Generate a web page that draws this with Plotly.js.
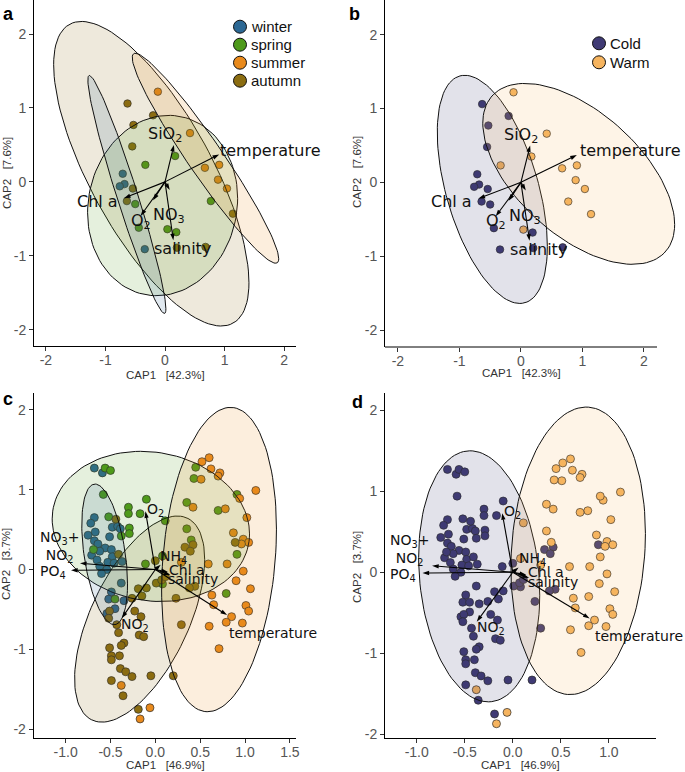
<!DOCTYPE html>
<html><head><meta charset="utf-8">
<script src="https://cdn.plot.ly/plotly-3.0.1.min.js"></script>
<style>html,body{margin:0;padding:0;background:#fff;}#chart{width:685px;height:772px;}</style>
</head><body><div id="chart"></div>
<script>
// ---------- categories & colours ----------
const seasons = ['winter','spring','summer','autumn'];
const seasonColors = ['#2c6894','#4e9a1b','#e98a1c','#8b6d11'];
const thermals = ['Cold','Warm'];
const thermalColors = ['#3f3a74','#f6b45f'];

// ---------- panels a / b : samples ----------
const abX = [-0.12,-0.63,-0.20,-0.53,0.42,-0.55,0.17,-0.33,0.67,0.91,-0.71,-0.68,-0.76,-0.54,0.89,1.04,-0.64,-0.50,0.77,1.14,-0.44,0.04,0.19,-0.34,0.20,0.68];
const abY = [1.22,1.06,0.90,0.77,0.66,0.48,0.35,0.23,0.19,0.23,0.11,-0.03,-0.06,-0.09,0.03,-0.09,-0.26,-0.30,-0.26,-0.43,-0.62,-0.64,-0.68,-0.91,-0.89,-0.88];
const abSeason = ['summer','autumn','autumn','autumn','summer','autumn','spring','spring','summer','summer','winter','winter','winter','autumn','summer','summer','autumn','spring','spring','autumn','spring','spring','spring','winter','autumn','autumn'];
const abThermal = ['Warm','Cold','Cold','Cold','Warm','Cold','Warm','Warm','Warm','Warm','Cold','Cold','Cold','Cold','Warm','Warm','Cold','Cold','Warm','Warm','Cold','Warm','Cold','Cold','Cold','Cold'];

// ---------- panels c / d : samples ----------
const cWinterX = [-0.68,-0.59,-0.68,-0.72,-0.48,-0.42,-0.39,-0.67,-0.75,-0.51,-0.68,-0.64,-0.56,-0.62,-0.49,-0.48,-0.71,-0.65,-0.53,-0.46,-0.37,-0.62,-0.54,-0.60,-0.38,-0.52,-0.35,-0.45,-0.54,-0.49];
const cWinterY = [1.27,1.21,0.65,0.58,0.53,0.54,0.51,0.47,0.43,0.41,0.36,0.32,0.27,0.23,0.25,0.16,0.18,0.12,0.09,0.08,0.10,0.04,0.00,-0.05,-0.17,-0.37,-0.39,-0.49,-0.55,-0.28];
const cSpringX = [-0.56,-0.50,-0.58,-0.10,-0.30,-0.30,-0.17,-0.52,-0.29,-0.38,-0.29,0.11,-0.69,-0.11,0.08,0.08,0.45,0.43,0.91,0.35,0.70,0.35,0.40,0.91,0.79,-0.45];
const cSpringY = [1.27,1.24,0.94,0.88,0.78,0.70,0.70,0.66,0.52,0.42,0.45,0.61,0.25,0.07,0.17,-0.18,1.28,1.14,0.94,0.84,0.74,0.51,0.37,0.19,-0.30,-0.37];
const cSpringThermal = ['Cold','Cold','Cold','Cold','Cold','Cold','Cold','Cold','Cold','Cold','Cold','Warm','Cold','Cold','Warm','Cold','Warm','Warm','Warm','Warm','Warm','Warm','Warm','Warm','Warm','Cold'];
const cSummerX = [0.52,0.60,0.62,0.72,0.70,0.51,1.12,0.94,0.42,0.78,1.02,0.87,0.98,1.04,0.96,0.59,0.80,0.98,0.90,1.06,0.63,0.65,1.01,1.04,0.85,0.79,0.97,0.60,0.71,-0.38,-0.06,-0.17,0.29];
const cSummerY = [1.35,1.40,1.26,1.21,1.17,1.13,0.99,0.89,0.78,0.76,0.65,0.46,0.38,0.34,0.32,0.07,0.07,-0.02,-0.14,-0.24,-0.32,-0.44,-0.45,-0.52,-0.59,-0.66,-0.67,-0.71,-0.99,-1.45,-1.73,-1.87,0.09];
const cAutumnX = [-0.44,-0.41,0.00,0.01,0.07,-0.10,0.89,0.33,0.42,0.39,0.44,0.38,0.23,0.29,0.20,-0.19,-0.15,-0.26,-0.51,-0.23,-0.16,-0.43,-0.41,-0.18,-0.13,-0.35,-0.38,-0.51,-0.49,-0.40,-0.49,-0.39,-0.33,-0.26,-0.05,-0.49,-0.36,-0.19,0.11,-0.52];
const cAutumnY = [0.63,0.19,0.11,-0.17,-0.13,-0.23,0.34,0.28,0.31,0.23,-0.21,-0.23,-0.36,-0.69,-1.33,-0.24,-0.33,-0.36,-0.52,-0.52,-0.59,-0.69,-0.79,-0.82,-0.84,-0.92,-0.95,-0.98,-1.08,-1.08,-1.13,-1.24,-1.28,-1.34,-1.33,-1.39,-1.58,-1.75,-0.09,-0.61];

// ---------- 95% ellipses: centre, sd x, sd y, correlation ----------
// order follows seasons[] / thermals[]
const aEllCx = [-0.64,-0.04,0.68,-0.23], aEllCy = [-0.17,-0.32,0.32,0.11], aEllSx = [0.655,1.26,1.23,1.64], aEllSy = [1.61,1.22,1.42,2.06], aEllR = [-0.96,0.08,-0.958,-0.716];
const bEllCx = [-0.465,0.94], bEllCy = [-0.095,0.115], bEllSx = [0.895,1.56], bEllSy = [1.545,1.225], bEllR = [-0.5,-0.56];
const cEllCx = [-0.565,-0.05,0.71,-0.175], cEllCy = [0.19,0.54,0.125,-0.62], cEllSx = [0.255,1.10,0.64,0.725], cEllSy = [0.88,0.94,1.905,1.29], cEllR = [-0.42,-0.1,0.2,0.58];
const dEllCx = [-0.35,0.68], dEllCy = [-0.05,0.265], dEllSx = [0.63,0.70], dEllSy = [1.55,1.775], dEllR = [-0.15,0.12];

// ---------- environmental vectors ----------
const abVecName = ['SiO<sub>2</sub>','temperature','Chl a','O<sub>2</sub>','NO<sub>3</sub>','salinity',''];
const abVecX = [0.15,0.91,-0.69,-0.41,-0.20,0.14,0.08];
const abVecY = [0.50,0.37,-0.22,-0.46,-0.25,-0.79,-0.11];
const abLabX = [0.0,1.78,-1.13,-0.40,0.06,0.29,0];
const abLabY = [0.64,0.43,-0.26,-0.53,-0.46,-0.905,0];
const cdVecName = ['O<sub>2</sub>','NO<sub>3</sub>+<br>NO<sub>2</sub>','PO<sub>4</sub>','NH<sub>4</sub>','Chl a','salinity','NO<sub>2</sub>','temperature'];
const cdVecX = [-0.11,-0.84,-0.94,0.06,0.14,0.17,-0.375,0.80];
const cdVecY = [0.73,0.08,-0.01,0.06,-0.03,-0.07,-0.61,-0.57];
const cdLabX = [0.0,-1.07,-1.14,0.20,0.35,0.42,-0.23,1.31];
const cdLabY = [0.74,0.28,-0.03,0.16,0.0,-0.12,-0.69,-0.79];

// ---------- axis ticks & titles ----------
const abTicks = [-2,-1,0,1,2], abTickText = ['-2','-1','0','1','2'];
const cdXTicks = [-1,-0.5,0,0.5,1,1.5], cdXTickText = ['-1.0','-0.5','0.0','0.5','1.0','1.5'];
const cdYTicks = [-2,-1,0,1,2], cdYTickText = ['-2','-1','0','1','2'];
const xTitles = ['CAP1\u00a0\u00a0 [42.3%]','CAP1\u00a0\u00a0 [42.3%]','CAP1\u00a0\u00a0 [46.9%]','CAP1\u00a0\u00a0 [46.9%]'];
const yTitles = ['CAP2\u00a0\u00a0 [7.6%]','CAP2\u00a0\u00a0 [7.6%]','CAP2\u00a0\u00a0 [3.7%]','CAP2\u00a0\u00a0 [3.7%]'];
const panelLetters = ['a','b','c','d'];

// ================= build =================
const W = 685, H = 772;
function px(x){return x/W;}
function py(y){return 1-y/H;}
function rgba(hex,a){const n=parseInt(hex.slice(1),16);return `rgba(${n>>16},${(n>>8)&255},${n&255},${a})`;}
function ellipse(cx,cy,sx,sy,r){const xs=[],ys=[],q=Math.sqrt(1-r*r);for(let i=0;i<=120;i++){const t=2*Math.PI*i/120;xs.push(cx+sx*Math.cos(t));ys.push(cy+sy*(r*Math.cos(t)+q*Math.sin(t)));}return {xs,ys};}
function pick(arr,keys,k){return arr.filter((_,i)=>keys[i]===k);}

const traces = [];
function pts(x,y,color,xa,ya,size){traces.push({type:'scatter',mode:'markers',x:x,y:y,xaxis:xa,yaxis:ya,showlegend:false,hoverinfo:'skip',
  marker:{size:size,color:color,line:{color:'#2a2a2a',width:0.7}}});}
function ell(cx,cy,sx,sy,r,color,xa,ya){const e=ellipse(cx,cy,sx,sy,r);traces.push({type:'scatter',mode:'lines',x:e.xs,y:e.ys,xaxis:xa,yaxis:ya,fill:'toself',
  fillcolor:rgba(color,0.15),line:{color:'#111',width:1},showlegend:false,hoverinfo:'skip'});}

// panel a
seasons.forEach((s,i)=>pts(pick(abX,abSeason,s),pick(abY,abSeason,s),seasonColors[i],'x','y',7.5));
[3,1,2,0].forEach(i=>ell(aEllCx[i],aEllCy[i],aEllSx[i],aEllSy[i],aEllR[i],seasonColors[i],'x','y'));
// panel b
thermals.forEach((s,i)=>pts(pick(abX,abThermal,s),pick(abY,abThermal,s),thermalColors[i],'x2','y2',7.5));
thermals.forEach((s,i)=>ell(bEllCx[i],bEllCy[i],bEllSx[i],bEllSy[i],bEllR[i],thermalColors[i],'x2','y2'));
// panel c
const cX = {winter:cWinterX,spring:cSpringX,summer:cSummerX,autumn:cAutumnX};
const cY = {winter:cWinterY,spring:cSpringY,summer:cSummerY,autumn:cAutumnY};
seasons.forEach((s,i)=>pts(cX[s],cY[s],seasonColors[i],'x3','y3',8));
[3,1,0,2].forEach(i=>ell(cEllCx[i],cEllCy[i],cEllSx[i],cEllSy[i],cEllR[i],seasonColors[i],'x3','y3'));
// panel d
const coldX = cWinterX.concat(pick(cSpringX,cSpringThermal,'Cold'),cAutumnX);
const coldY = cWinterY.concat(pick(cSpringY,cSpringThermal,'Cold'),cAutumnY);
const warmX = cSummerX.concat(pick(cSpringX,cSpringThermal,'Warm'));
const warmY = cSummerY.concat(pick(cSpringY,cSpringThermal,'Warm'));
pts(coldX,coldY,thermalColors[0],'x4','y4',8);
pts(warmX,warmY,thermalColors[1],'x4','y4',8);
thermals.forEach((s,i)=>ell(dEllCx[i],dEllCy[i],dEllSx[i],dEllSy[i],dEllR[i],thermalColors[i],'x4','y4'));

// ---------- vectors (arrows) & labels ----------
const ann = [];
function vectors(names,vx,vy,lx,ly,xa,ya,fs){
  names.forEach((n,i)=>{
    traces.push({type:'scatter',mode:'lines+markers',x:[0,vx[i]],y:[0,vy[i]],xaxis:xa,yaxis:ya,showlegend:false,hoverinfo:'skip',
      line:{color:'#000',width:1.1},marker:{symbol:'arrow',size:7,angleref:'previous',color:'#000'}});
    if(n) ann.push({xref:xa,yref:ya,x:lx[i],y:ly[i],text:n,showarrow:false,xanchor:'center',yanchor:'middle',font:{family:'DejaVu Sans',size:fs,color:'#111'}});
  });
}
vectors(abVecName,abVecX,abVecY,abLabX,abLabY,'x','y',16);
vectors(abVecName,abVecX,abVecY,abLabX,abLabY,'x2','y2',16);
vectors(cdVecName,cdVecX,cdVecY,cdLabX,cdLabY,'x3','y3',14);
vectors(cdVecName,cdVecX,cdVecY,cdLabX,cdLabY,'x4','y4',14);

// axis titles & panel letters (pixel placement)
const xTitlePos = [[165,375],[521,373],[165,765],[520,765]];
const yTitlePos = [[7,173],[357,172],[6,564],[357,567]];
const letterPos = [[1,2],[347,2],[1,387],[350,390]];
for(let i=0;i<4;i++){
  ann.push({xref:'paper',yref:'paper',x:px(xTitlePos[i][0]),y:py(xTitlePos[i][1]),text:xTitles[i],showarrow:false,xanchor:'center',yanchor:'middle',font:{family:'Liberation Sans',size:11.5,color:'#333'}});
  ann.push({xref:'paper',yref:'paper',x:px(yTitlePos[i][0]),y:py(yTitlePos[i][1]),text:yTitles[i],showarrow:false,textangle:-90,xanchor:'center',yanchor:'middle',font:{family:'Liberation Sans',size:11.5,color:'#333'}});
  ann.push({xref:'paper',yref:'paper',x:px(letterPos[i][0]),y:py(letterPos[i][1]),text:'<b>'+panelLetters[i]+'</b>',showarrow:false,xanchor:'left',yanchor:'top',font:{family:'Liberation Sans',size:18,color:'#000'}});
}

// ---------- manual legends ----------
const shapes = [];
function legend(names,colors,cx,cy0,step){
  names.forEach((n,i)=>{
    const cy=cy0+i*step, r=6.5;
    shapes.push({type:'circle',xref:'paper',yref:'paper',x0:px(cx-r),x1:px(cx+r),y0:py(cy+r),y1:py(cy-r),fillcolor:colors[i],line:{color:'#111',width:1}});
    ann.push({xref:'paper',yref:'paper',x:px(cx+9),y:py(cy),text:n,showarrow:false,xanchor:'left',yanchor:'middle',font:{family:'Liberation Sans',size:15,color:'#111'}});
  });
}
legend(seasons,seasonColors,240,26.7,18);
legend(thermals,thermalColors,599,43.3,19);
// panel b x axis line (panel area extends right so the Warm ellipse is not clipped)
shapes.push({type:'line',xref:'paper',yref:'paper',x0:px(385),x1:px(657),y0:py(347),y1:py(347),line:{color:'#000',width:1}});

// ---------- axes ----------
function axis(dom,range,tv,tt){return {domain:dom,range:range,tickvals:tv,ticktext:tt,showline:true,linecolor:'#000',linewidth:1,ticks:'outside',ticklen:4,tickwidth:1,tickcolor:'#333',
  tickfont:{family:'Liberation Sans',size:14,color:'#555'},showgrid:false,zeroline:false,fixedrange:true};}
const layout = {
  width:W,height:H,margin:{l:0,r:0,t:0,b:0},paper_bgcolor:'#fff',plot_bgcolor:'rgba(0,0,0,0)',showlegend:false,
  xaxis: Object.assign(axis([px(34),px(296)],[-2.2,2.2],abTicks,abTickText),{anchor:'y',ticklabelstandoff:-3}),
  yaxis: Object.assign(axis([py(346),1],[-2.22,2.46],abTicks,abTickText),{anchor:'x'}),
  xaxis2:Object.assign(axis([px(385),px(684)],[-2.21,2.652],abTicks,abTickText),{anchor:'y2',showline:false,ticklabelstandoff:-3}),
  yaxis2:Object.assign(axis([py(347),1],[-2.23,2.47],abTicks,abTickText),{anchor:'x2'}),
  xaxis3:Object.assign(axis([px(33.7),px(296)],[-1.356,1.568],cdXTicks,cdXTickText),{anchor:'y3',ticklabelstandoff:-3}),
  yaxis3:Object.assign(axis([py(737.7),py(393)],[-2.105,2.21],cdYTicks,cdYTickText),{anchor:'x3'}),
  xaxis4:Object.assign(axis([px(385),px(656)],[-1.33,1.49],cdXTicks,cdXTickText),{anchor:'y4',ticklabelstandoff:-3}),
  yaxis4:Object.assign(axis([py(738.3),py(393.3)],[-2.05,2.21],cdYTicks,cdYTickText),{anchor:'x4'}),
  annotations:ann,shapes:shapes
};
Plotly.newPlot('chart',traces,layout,{displayModeBar:false,staticPlot:true});
</script></body></html>
